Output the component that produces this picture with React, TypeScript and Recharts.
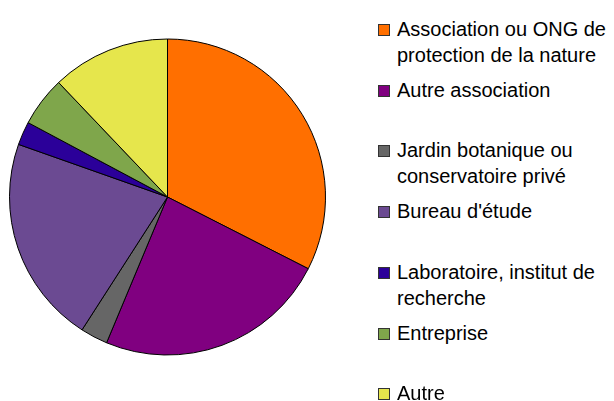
import { PieChart, Pie, Cell, Legend } from 'recharts';

const categories = [
  'Association ou ONG de protection de la nature',
  'Autre association',
  'Jardin botanique ou conservatoire privé',
  "Bureau d'étude",
  'Laboratoire, institut de recherche',
  'Entreprise',
  'Autre',
];
// legend text as it wraps in the original
const legendLines = [
  ['Association ou ONG de', 'protection de la nature'],
  ['Autre association'],
  ['Jardin botanique ou', 'conservatoire privé'],
  ["Bureau d'étude"],
  ['Laboratoire, institut de', 'recherche'],
  ['Entreprise'],
  ['Autre'],
];
const shares = [32.5, 23.8, 2.8, 21.3, 2.4, 5.1, 12.1];
const colors = ['#ff6f00', '#800080', '#666666', '#6b4a92', '#2b0099', '#7fa64b', '#e6e64c'];

const data = categories.map((name, i) => ({ name, value: shares[i] }));

const LegendBox = () => (
  <div style={{ position: 'relative', width: 244, height: 401, fontFamily: 'Liberation Sans, Arial, sans-serif' }}>
    {legendLines.map((lines, i) => (
      <div key={i} style={{ position: 'absolute', left: 0, top: 16 + i * 60.7, fontSize: 20, lineHeight: '26px', color: '#000' }}>
        <span
          style={{
            position: 'absolute',
            left: 8,
            top: 8,
            width: 10,
            height: 10,
            background: colors[i],
            border: '1px solid #333',
          }}
        />
        <div style={{ marginLeft: 27, whiteSpace: 'nowrap' }}>
          {lines.map((l, j) => (
            <div key={j}>{l}</div>
          ))}
        </div>
      </div>
    ))}
  </div>
);

export default function App() {
  return (
    <div style={{ position: 'fixed', left: 0, top: 0, width: 614, height: 401, background: '#fff' }}>
      <PieChart width={614} height={401} margin={{ top: 0, right: 0, bottom: 0, left: 0 }}>
        <Pie
          data={data}
          dataKey="value"
          nameKey="name"
          cx={167.5}
          cy={197}
          outerRadius={158}
          startAngle={90}
          endAngle={-270}
          stroke="#000"
          strokeWidth={1}
          isAnimationActive={false}
        >
          {data.map((_, i) => (
            <Cell key={i} fill={colors[i]} />
          ))}
        </Pie>
        <Legend
          layout="vertical"
          content={<LegendBox />}
          wrapperStyle={{ position: 'absolute', left: 370, top: 0, width: 244, height: 401 }}
        />
      </PieChart>
    </div>
  );
}
